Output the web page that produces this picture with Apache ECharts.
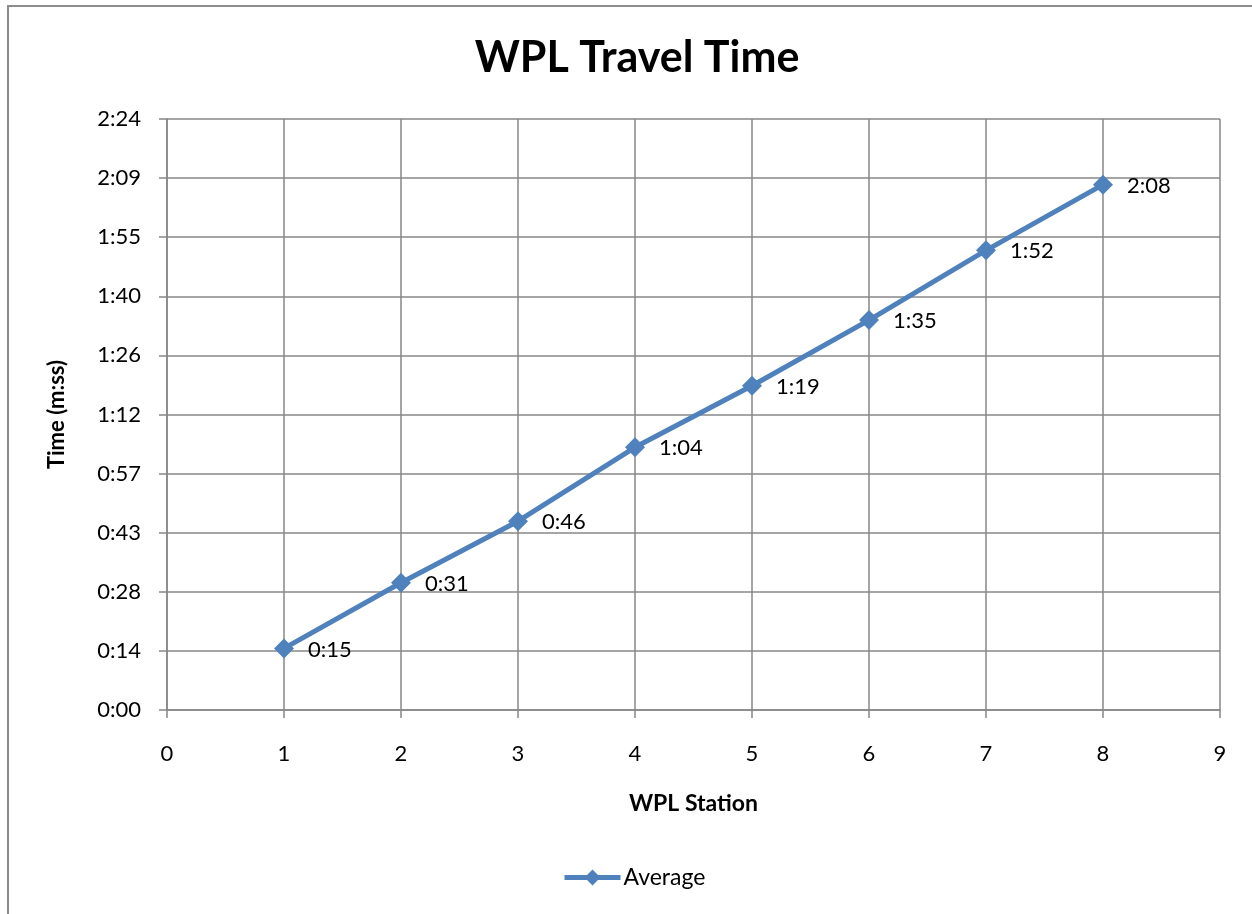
<!DOCTYPE html>
<html>
<head>
<meta charset="utf-8">
<script src="https://cdn.jsdelivr.net/npm/echarts@6/dist/echarts.min.js"></script>
<style>
  html, body { margin: 0; padding: 0; background: #fff; }
  #chart { width: 1252px; height: 914px; }
</style>
</head>
<body>
<div id="chart"></div>
<script>
// Average travel time per station, in seconds
const stations = [1, 2, 3, 4, 5, 6, 7, 8];
const avgSeconds = [15, 31, 46, 64, 79, 95, 112, 128];
const seriesName = 'Average';

// m:ss formatting (seconds truncated)
function mss(v) {
  const s = Math.floor(v + 1e-6);
  const m = Math.floor(s / 60);
  const r = s % 60;
  return m + ':' + (r < 10 ? '0' : '') + r;
}

const FONT = 'Lato, "Open Sans", sans-serif';
const GRID = '#878787';
const BLUE = '#4F81BD';

const chart = echarts.init(document.getElementById('chart'), null, { renderer: 'canvas' });
chart.setOption({
  animation: false,
  backgroundColor: '#fff',
  textStyle: { fontFamily: FONT, color: '#000' },
  graphic: [{
    type: 'rect',
    shape: { x: 8, y: 6, width: 1300, height: 960 },
    style: { fill: 'none', stroke: '#8c8c8c', lineWidth: 2 },
    silent: true
  }],
  title: {
    text: 'WPL Travel Time',
    left: 632, top: 32, textAlign: 'center',
    textStyle: { fontFamily: FONT, fontSize: 43, fontWeight: 'bold', color: '#000' }
  },
  legend: {
    data: [seriesName],
    left: 562, top: 866, padding: 0,
    itemWidth: 56, itemHeight: 20, itemGap: 4,
    lineStyle: { width: 5 },
    textStyle: { fontFamily: FONT, fontSize: 23, color: '#000', padding: [0, 0, 0, -2] }
  },
  grid: { left: 167, right: 32, top: 119, bottom: 204, containLabel: false },
  xAxis: {
    type: 'value', min: 0, max: 9, interval: 1,
    name: 'WPL Station', nameLocation: 'middle', nameGap: 82,
    nameTextStyle: { fontFamily: FONT, fontSize: 23, fontWeight: 'bold', color: '#000' },
    axisLine: { show: true, lineStyle: { color: GRID, width: 1.5 } },
    axisTick: { show: true, length: 8, lineStyle: { color: GRID, width: 1.5 } },
    axisLabel: { margin: 33, fontSize: 22, color: '#000', fontFamily: FONT },
    splitLine: { show: true, lineStyle: { color: GRID, width: 1.5 } }
  },
  yAxis: {
    type: 'value', min: 0, max: 144, interval: 14.4,
    name: 'Time (m:ss)', nameLocation: 'middle', nameGap: 99, nameRotate: 90,
    nameTextStyle: { fontFamily: FONT, fontSize: 22, fontWeight: 'bold', color: '#000' },
    axisLine: { show: true, lineStyle: { color: GRID, width: 1.5 } },
    axisTick: { show: true, length: 8, lineStyle: { color: GRID, width: 1.5 } },
    axisLabel: { margin: 26, fontSize: 22, color: '#000', fontFamily: FONT, formatter: mss },
    splitLine: { show: true, lineStyle: { color: GRID, width: 1.5 } }
  },
  series: [{
    name: seriesName,
    type: 'line',
    data: stations.map((s, i) => [s, avgSeconds[i]]),
    symbol: 'diamond',
    symbolSize: 20,
    lineStyle: { color: BLUE, width: 5 },
    itemStyle: { color: BLUE },
    label: {
      show: true, position: 'right', distance: 14,
      fontSize: 22, color: '#000', fontFamily: FONT,
      offset: [0, 1],
      formatter: p => mss(p.value[1])
    }
  }]
});
</script>
</body>
</html>
